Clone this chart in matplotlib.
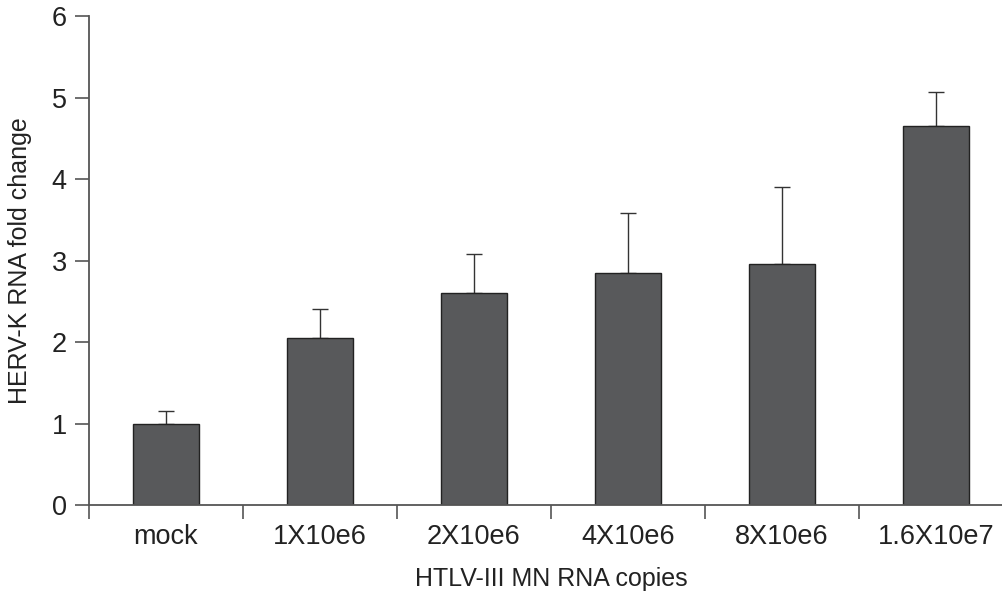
import matplotlib
matplotlib.use("Agg")
import matplotlib.pyplot as plt
import numpy as np

plt.rcParams['font.family'] = ['Liberation Sans', 'DejaVu Sans']

categories = ['mock', '1X10e6', '2X10e6', '4X10e6', '8X10e6', '1.6X10e7']
fold_change = [1.0, 2.05, 2.6, 2.85, 2.96, 4.65]
err_upper = [0.15, 0.35, 0.48, 0.73, 0.94, 0.42]

fig = plt.figure(figsize=(10.03, 5.98), dpi=100)
ax = fig.add_axes([0.0887, 0.1555, 0.921, 0.8177])

x = np.arange(len(categories))
ax.bar(x, fold_change, width=0.43, color='#58595b', edgecolor='#222222', linewidth=1.0, zorder=2)
ax.errorbar(x, fold_change, yerr=[np.zeros(len(x)), err_upper], fmt='none',
            ecolor='#333333', elinewidth=1.0, capsize=6, capthick=1.0, zorder=1)

ax.set_xlim(-0.5, 5.5)
ax.set_ylim(0, 6)
ax.set_yticks(range(7))
ax.set_xticks(x)
ax.set_xticklabels(categories)
ax.set_xticks(np.arange(-0.5, 6, 1), minor=True)
ax.tick_params(axis='x', which='major', length=0, pad=14, labelsize=19.5, colors='#222222')
ax.tick_params(axis='x', which='minor', length=10, width=1.2, color='#555555')
ax.tick_params(axis='y', length=10, width=1.2, color='#555555', labelsize=19.5, labelcolor='#222222', pad=6)

for s in ['top', 'right']:
    ax.spines[s].set_visible(False)
for s in ['left', 'bottom']:
    ax.spines[s].set_color('#555555')
    ax.spines[s].set_linewidth(1.3)

ax.set_xlabel('HTLV-III MN RNA copies', fontsize=18, color='#222222', labelpad=12)
ax.set_ylabel('HERV-K RNA fold change', fontsize=18, color='#222222', labelpad=14)

fig.savefig('out.png', dpi=100)
